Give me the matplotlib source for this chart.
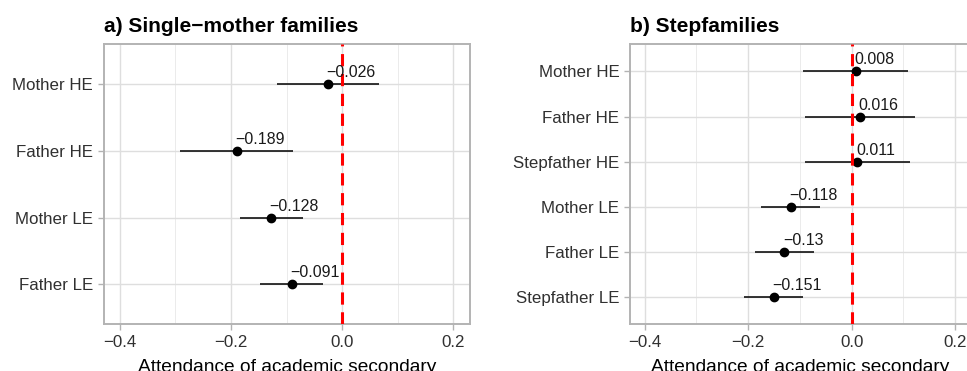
import matplotlib
matplotlib.use("Agg")
import matplotlib.pyplot as plt
from matplotlib.ticker import MultipleLocator

plt.rcParams['font.family'] = ['Liberation Sans', 'DejaVu Sans']

# --- Data: estimates and confidence intervals ---
single_cats = ['Mother HE', 'Father HE', 'Mother LE', 'Father LE']
single_est = [-0.026, -0.189, -0.128, -0.091]
single_lo = [-0.118, -0.291, -0.184, -0.147]
single_hi = [0.067, -0.088, -0.071, -0.035]

step_cats = ['Mother HE', 'Father HE', 'Stepfather HE',
             'Mother LE', 'Father LE', 'Stepfather LE']
step_est = [0.008, 0.016, 0.011, -0.118, -0.13, -0.151]
step_lo = [-0.094, -0.090, -0.091, -0.175, -0.187, -0.209]
step_hi = [0.108, 0.122, 0.113, -0.061, -0.072, -0.095]

xticks = [-0.4, -0.2, 0.0, 0.2]
xlabel = 'Attendance of academic secondary'

fig = plt.figure(figsize=(9.67, 3.71), dpi=100)
ax1 = fig.add_axes([0.1072, 0.1259, 0.3788, 0.7547])
ax2 = fig.add_axes([0.6512, 0.1259, 0.3527, 0.7547])


def fmt(v):
    return f"{v:g}".replace('-', '\u2212')


def panel(ax, title, cats, est, lo, hi):
    n = len(cats)
    ypos = list(range(n, 0, -1))
    ax.set_xlim(-0.429, 0.230)
    ax.set_ylim(0.4, n + 0.6)
    ax.set_xticks(xticks)
    ax.set_xticklabels([fmt(t) if t != 0 else '0.0' for t in xticks])
    ax.xaxis.set_minor_locator(MultipleLocator(0.1))
    ax.set_yticks(ypos)
    ax.set_yticklabels(cats)
    ax.grid(True, which='major', color='#DEDEDE', lw=1.0)
    ax.grid(True, which='minor', axis='x', color='#EBEBEB', lw=0.7)
    ax.set_axisbelow(True)
    for s in ax.spines.values():
        s.set_color('#B3B3B3')
        s.set_linewidth(1.4)
    ax.tick_params(axis='both', which='major', length=4, color='#B3B3B3',
                   labelsize=12.2, labelcolor='#303030', width=1)
    ax.tick_params(axis='x', which='minor', length=0)
    ax.hlines(ypos, lo, hi, color='black', lw=1.1, zorder=3)
    ax.plot(est, ypos, 'o', color='black', ms=6, zorder=4)
    ax.axvline(0, color='#FF0000', ls=(0, (4, 2.5)), lw=2.2, zorder=5)
    for x, y in zip(est, ypos):
        ax.annotate(fmt(x), (x, y), xytext=(-1, 5), textcoords='offset points',
                    ha='left', va='baseline', fontsize=11.5, color='#1a1a1a',
                    zorder=6)
    ax.set_title(title, loc='left', fontsize=15, fontweight='bold', pad=9)
    ax.set_xlabel(xlabel, fontsize=13.8, labelpad=6.5)


panel(ax1, 'a) Single\u2212mother families', single_cats,
      single_est, single_lo, single_hi)
panel(ax2, 'b) Stepfamilies', step_cats, step_est, step_lo, step_hi)

fig.savefig('out.png', dpi=100)
